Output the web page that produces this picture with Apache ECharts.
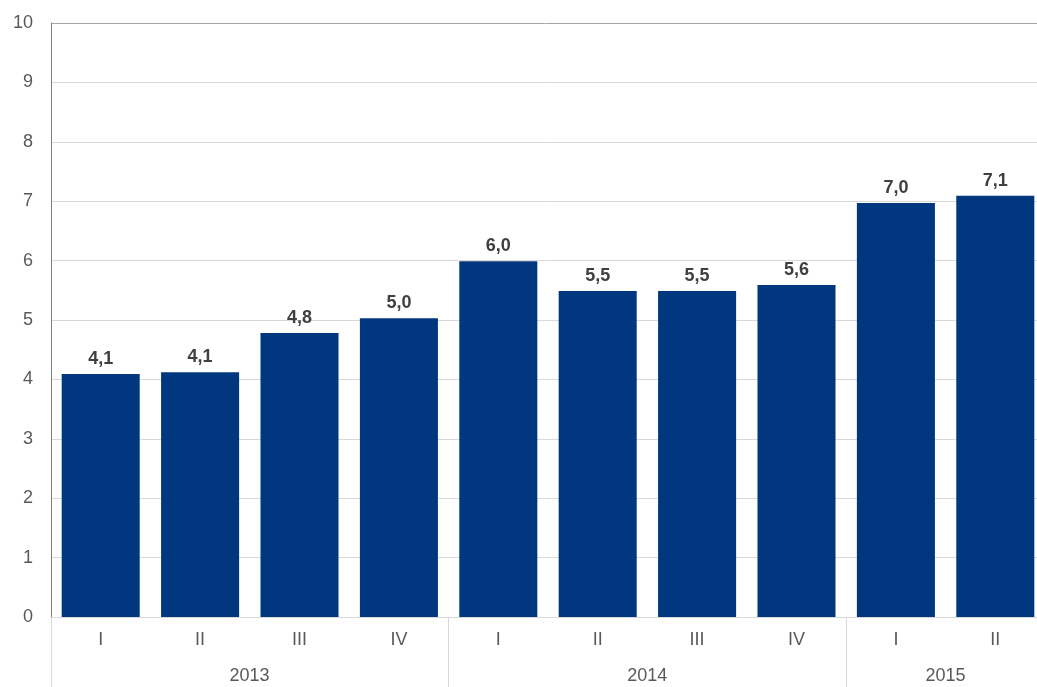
<!DOCTYPE html>
<html><head><meta charset="utf-8">
<script src="https://cdn.jsdelivr.net/npm/echarts@6/dist/echarts.min.js"></script>
<style>html,body{margin:0;padding:0;background:#fff}#c{width:1037px;height:687px}</style>
</head><body><div id="c"></div>
<script>
const quarters = ['I','II','III','IV','I','II','III','IV','I','II'];
const yearSlots = ['2013','2013','2013','2013','2014','2014','2014','2014','2015','2015'];
const yearLabelAt = {1:'2013',5:'2014',8:'2015'};
const values = [4.09, 4.12, 4.78, 5.03, 5.99, 5.49, 5.49, 5.59, 6.97, 7.09];
const labels = ['4,1','4,1','4,8','5,0','6,0','5,5','5,5','5,6','7,0','7,1'];
const yTicks = [0,1,2,3,4,5,6,7,8,9,10];

const chart = echarts.init(document.getElementById('c'), null, {renderer:'canvas'});
const font = 'Liberation Sans, Arial, sans-serif';
chart.setOption({
  animation:false,
  grid:{left:51,width:994,top:23,height:594,containLabel:false,outerBoundsMode:'none'},
  xAxis:[{
    type:'category', data:quarters, position:'bottom',
    axisLine:{show:true,lineStyle:{color:'#d9d9d9',width:1}},
    axisTick:{show:false},
    axisLabel:{color:'#595959',fontSize:18,fontFamily:font,margin:14}
  },{
    type:'category', data:yearSlots, position:'bottom',
    axisLine:{show:false},
    axisTick:{show:true,length:70,interval:function(i){return i%4===0;},lineStyle:{color:'#d9d9d9'}},
    axisLabel:{color:'#595959',fontSize:18,fontFamily:font,margin:50,
      interval:function(i){return yearLabelAt[i]!==undefined;},
      formatter:function(v,i){return yearLabelAt[i]||'';},
      padding:[0,0,0,99]}
  }],
  yAxis:{
    type:'value', min:yTicks[0], max:yTicks[yTicks.length-1], interval:1,
    axisLine:{show:true,lineStyle:{color:'#808080',width:1}},
    axisTick:{show:false},
    axisLabel:{color:'#595959',fontSize:18,fontFamily:font,margin:18},
    splitLine:{show:true,lineStyle:{color:['#d9d9d9','#d9d9d9','#d9d9d9','#d9d9d9','#d9d9d9','#d9d9d9','#d9d9d9','#d9d9d9','#d9d9d9','#d9d9d9','#a6a6a6'],width:1}}
  },
  series:[{
    type:'bar', data:values, xAxisIndex:0, barCategoryGap:'21.5%',
    itemStyle:{color:'#00377e'},
    label:{show:true,position:'top',distance:6,color:'#404040',fontSize:18,fontWeight:'bold',fontFamily:font,
      formatter:function(p){return labels[p.dataIndex];}}
  }]
});
</script></body></html>
